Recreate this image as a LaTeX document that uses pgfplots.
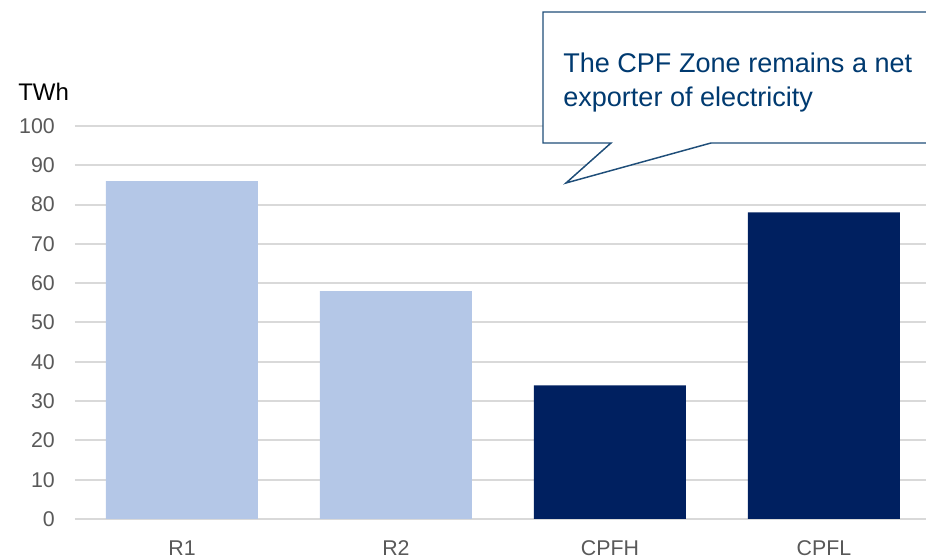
\documentclass[border=0pt]{standalone}
\usepackage{pgfplots}
\pgfplotsset{compat=1.18}
\usepackage{fontspec}
\setmainfont{Liberation Sans}
\definecolor{lightbar}{HTML}{B4C7E7}
\definecolor{darkbar}{HTML}{002060}
\definecolor{gridc}{HTML}{D9D9D9}
\definecolor{tickc}{HTML}{595959}
\definecolor{callc}{HTML}{1F4E79}
\definecolor{calltxt}{HTML}{003A70}
\begin{document}
\begin{tikzpicture}
\useasboundingbox (0,0) rectangle (694.5pt,419.25pt);
\begin{axis}[
  at={(56.25pt,30pt)}, anchor=south west,
  scale only axis, width=638.25pt, height=294.75pt,
  xmin=-0.5, xmax=3.477, ymin=0, ymax=100,
  axis line style={draw=none}, tick style={draw=none}, clip=false,
  ytick={0,10,...,100}, xtick={0,1,2,3},
  xticklabels={R1,R2,CPFH,CPFL},
  major tick length=0pt,
  /pgf/number format/assume math mode=true,
  yticklabel style={font=\fontsize{16}{18}\selectfont, text=tickc, anchor=east, inner sep=0pt, xshift=-15pt},
  xticklabel style={font=\fontsize{16}{18}\selectfont, text=tickc, anchor=north, inner sep=0pt, yshift=-16pt},
]
\pgfplotsinvokeforeach{0,10,...,100}{
  \draw[gridc, line width=1.5pt] (axis cs:-0.5,#1) -- (axis cs:3.477,#1);
}
\addplot[ybar, bar width=114pt, fill=lightbar, draw=none, bar shift=0pt] coordinates {(0,86) (1,58)};
\addplot[ybar, bar width=114pt, fill=darkbar, draw=none, bar shift=0pt] coordinates {(2,34) (3,78)};
\end{axis}
\node[anchor=base west, inner sep=0pt, font=\fontsize{18}{20}\selectfont] at (13.5pt,343.5pt) {TWh};
\filldraw[fill=white, draw=callc, line width=1.1pt] (700pt,312pt) -- (533.25pt,312pt) -- (424.5pt,282pt) -- (458.25pt,312pt) -- (407.25pt,312pt) -- (407.25pt,410.25pt) -- (700pt,410.25pt);
\node[anchor=base west, inner sep=0pt, text=calltxt, font=\fontsize{20.3}{23}\selectfont] at (422.25pt,364.5pt) {The CPF Zone remains a net};
\node[anchor=base west, inner sep=0pt, text=calltxt, font=\fontsize{20.3}{23}\selectfont] at (422.25pt,339pt) {exporter of electricity};
\end{tikzpicture}
\end{document}
